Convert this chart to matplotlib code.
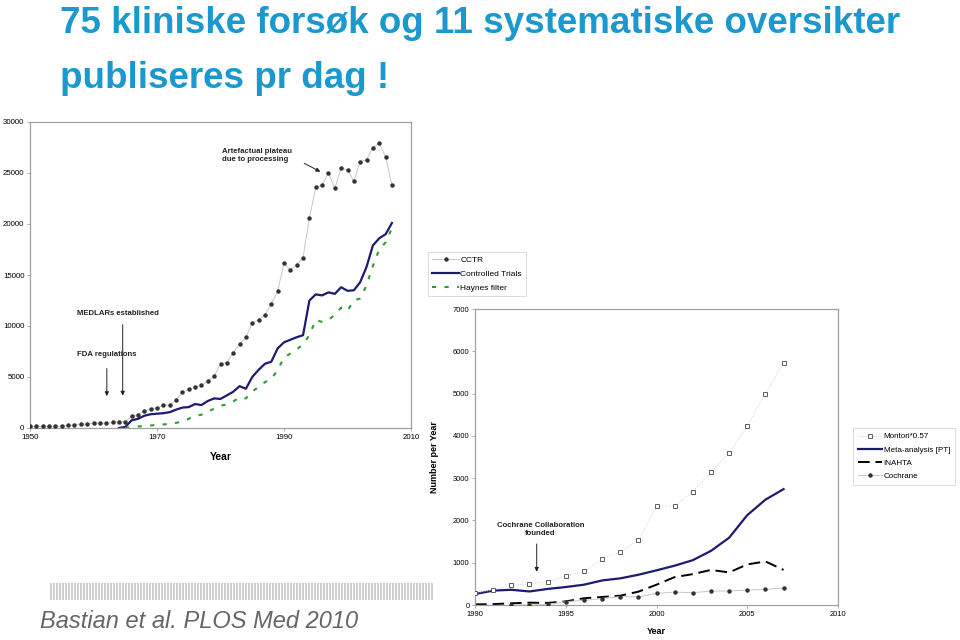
import numpy as np
import matplotlib
matplotlib.use("Agg")
import matplotlib.pyplot as plt
from matplotlib.lines import Line2D
from matplotlib.patches import Rectangle

plt.rcParams['font.family'] = ['Liberation Sans', 'DejaVu Sans']

# --- left chart: trials per year (1950-2007) ---
cctr_years = list(range(1950, 2008))
cctr = [180, 150, 160, 170, 170, 180, 250, 280, 350, 380,
        480, 500, 450, 550, 600, 620, 1150, 1300, 1650, 1900,
        1950, 2250, 2250, 2750, 3500, 3800, 4000, 4200, 4600, 5100,
        6300, 6400, 7400, 8200, 8900, 10300, 10600, 11100, 12200, 13400,
        16200, 15500, 16000, 16700, 20600, 23600, 23800, 25000, 23500, 25500,
        25300, 24200, 26100, 26300, 27500, 27900, 26600, 23800]

ct_years = list(range(1964, 2008))
controlled_trials = [0, 100, 750, 900, 1200, 1350,
                     1400, 1450, 1550, 1800, 2000, 2050, 2350, 2250, 2650, 2900,
                     2850, 3200, 3550, 4100, 3850, 5000, 5700, 6300, 6500, 7800,
                     8400, 8650, 8900, 9100, 12500, 13100, 13000, 13300, 13150, 13800,
                     13450, 13500, 14300, 15800, 17900, 18600, 19000, 20100]

hf_years = list(range(1965, 2008))
haynes = [0, 80, 150, 200, 250,
          300, 350, 400, 500, 650, 900, 1200, 1300, 1600, 1900,
          2200, 2300, 2600, 3000, 2900, 3600, 4000, 4500, 4800, 5700,
          6900, 7300, 7700, 8200, 9100, 10600, 10400, 10600, 11100, 11800,
          11500, 12500, 12700, 14000, 15900, 17500, 18200, 19600]

# --- right chart: systematic reviews per year (1990-2007) ---
sr_years = list(range(1990, 2008))
montori = [283, 360, 470, 500, 550, 680, 800, 1080, 1260, 1530,
           2330, 2345, 2680, 3140, 3600, 4225, 5000, 5730]
meta_pt = [260, 340, 360, 320, 380, 425, 480, 580, 630, 715,
           820, 930, 1060, 1280, 1590, 2125, 2490, 2740]
inahta = [15, 20, 40, 55, 50, 85, 160, 190, 220, 315,
          480, 660, 730, 830, 770, 960, 1030, 830]
coch_years = list(range(1992, 2008))
cochrane = [0, 0, 15, 80, 110, 150, 200, 190,
            275, 305, 290, 330, 330, 355, 370, 400]

TITLE_BLUE = '#1b98cd'
NAVY = '#1d1a72'
GREEN = '#2f9a36'
SPINE = '#a0a0a0'

W, H = 960, 640
fig = plt.figure(figsize=(9.6, 6.4), dpi=100)


def fx(px):
    return px / W


def fy(py):
    return 1 - py / H


def style_axes(ax, fs):
    for s in ax.spines.values():
        s.set_color(SPINE)
        s.set_linewidth(0.9)
    ax.tick_params(axis='both', length=2, width=0.6, color=SPINE,
                   labelsize=fs, pad=2)


# title
fig.text(fx(60), fy(33), "75 kliniske forsøk og 11 systematiske oversikter",
         fontsize=26.5, fontweight='bold', color=TITLE_BLUE, va='baseline', ha='left')
fig.text(fx(60), fy(88), "publiseres pr dag !",
         fontsize=26.5, fontweight='bold', color=TITLE_BLUE, va='baseline', ha='left')

# left chart
ax1 = fig.add_axes([fx(30), fy(428), fx(411 - 30), (428 - 122) / H])
ax1.plot(cctr_years, cctr, color='#c8c8c8', lw=0.7, marker='o', ms=2.2,
         mfc='#333333', mec='#333333', zorder=3)
ax1.plot(ct_years, controlled_trials, color=NAVY, lw=1.6, zorder=2)
ax1.plot(hf_years, haynes, color=GREEN, lw=1.5, ls=(0, (2, 4)), zorder=2)
ax1.set_xlim(1950, 2010)
ax1.set_ylim(0, 30000)
ax1.set_xticks([1950, 1970, 1990, 2010])
ax1.set_yticks(range(0, 30001, 5000))
style_axes(ax1, 5.7)
ax1.set_xlabel("Year", fontsize=7.5, fontweight='bold', labelpad=8)

ann = dict(fontsize=5.6, fontweight='bold', color='#222222')
ax1.text(1980.2, 27450, "Artefactual plateau\ndue to processing", va='top',
         ha='left', linespacing=1.1, **ann)
ax1.annotate("", xy=(1996.1, 25000), xytext=(1992.8, 26080),
             arrowprops=dict(arrowstyle='-|>', color='#222222', lw=0.7,
                             mutation_scale=6))
ax1.text(1957.4, 11270, "MEDLARs established", va='center', ha='left', **ann)
ax1.annotate("", xy=(1964.6, 2900), xytext=(1964.6, 10400),
             arrowprops=dict(arrowstyle='-|>', color='#222222', lw=0.7,
                             mutation_scale=6))
ax1.text(1957.4, 7250, "FDA regulations", va='center', ha='left', **ann)
ax1.annotate("", xy=(1962.1, 2850), xytext=(1962.1, 6100),
             arrowprops=dict(arrowstyle='-|>', color='#222222', lw=0.7,
                             mutation_scale=6))

h1 = [Line2D([], [], color='#c8c8c8', lw=0.7, marker='o', ms=2.2,
             mfc='#333333', mec='#333333'),
      Line2D([], [], color=NAVY, lw=1.6),
      Line2D([], [], color=GREEN, lw=1.5, ls=(0, (2, 4)))]
leg1 = fig.legend(h1, ["CCTR", "Controlled Trials", "Haynes filter"],
                  loc='upper left', bbox_to_anchor=(fx(428), fy(252)),
                  fontsize=6, frameon=True, fancybox=False, handlelength=3.2,
                  handletextpad=0.2, borderpad=0.5, labelspacing=0.75,
                  borderaxespad=0)
leg1.get_frame().set_edgecolor('#cccccc')
leg1.get_frame().set_linewidth(0.6)

# right chart
ax2 = fig.add_axes([fx(475), fy(605), fx(838 - 475), (605 - 309) / H])
ax2.plot(sr_years, montori, color='#d0d0d0', lw=0.7, ls=(0, (1, 1.5)),
         marker='s', ms=2.4, mfc='white', mec='#444444', mew=0.6, zorder=3)
ax2.plot(sr_years, meta_pt, color=NAVY, lw=1.6, zorder=2)
ax2.plot(sr_years, inahta, color='black', lw=1.4, ls=(0, (6, 3)), zorder=2)
ax2.plot(coch_years, cochrane, color='#c8c8c8', lw=0.7, marker='o', ms=2.2,
         mfc='#333333', mec='#333333', zorder=3)
ax2.set_xlim(1990, 2010)
ax2.set_ylim(0, 7000)
ax2.set_xticks([1990, 1995, 2000, 2005, 2010])
ax2.set_yticks(range(0, 7001, 1000))
style_axes(ax2, 5.4)
ax2.set_xlabel("Year", fontsize=6.5, fontweight='bold', labelpad=7)
ax2.set_ylabel("Number per Year", fontsize=6.5, fontweight='bold', labelpad=10)

ax2.text(1993.6, 1780, "Cochrane Collaboration\nfounded", ha='center',
         va='center', linespacing=1.2, **ann)
ax2.annotate("", xy=(1993.4, 720), xytext=(1993.4, 1510),
             arrowprops=dict(arrowstyle='-|>', color='#222222', lw=0.7,
                             mutation_scale=6))

h2 = [Line2D([], [], color='#d0d0d0', lw=0.7, ls=(0, (1, 1.5)), marker='s',
             ms=2.4, mfc='white', mec='#444444', mew=0.6),
      Line2D([], [], color=NAVY, lw=1.6),
      Line2D([], [], color='black', lw=1.4, ls=(0, (6, 3))),
      Line2D([], [], color='#c8c8c8', lw=0.7, marker='o', ms=2.2,
             mfc='#333333', mec='#333333')]
leg2 = fig.legend(h2, ["Montori*0.57", "Meta-analysis [PT]", "INAHTA", "Cochrane"],
                  loc='upper left', bbox_to_anchor=(fx(853), fy(428)),
                  fontsize=5.8, frameon=True, fancybox=False, handlelength=3.0,
                  handletextpad=0.2, borderpad=0.6, labelspacing=0.7,
                  borderaxespad=0)
leg2.get_frame().set_edgecolor('#cccccc')
leg2.get_frame().set_linewidth(0.6)

# striped decoration bar
x = 50
while x < 432:
    fig.patches.append(Rectangle((fx(x), fy(600)), fx(2), (600 - 583) / H,
                                 transform=fig.transFigure, facecolor='#cfcfcf',
                                 edgecolor='none'))
    x += 3

fig.text(fx(40), fy(621), "Bastian et al. PLOS Med 2010", fontsize=17,
         style='italic', color='#666666', va='center', ha='left')

fig.savefig("out.png", dpi=100, facecolor='white')
